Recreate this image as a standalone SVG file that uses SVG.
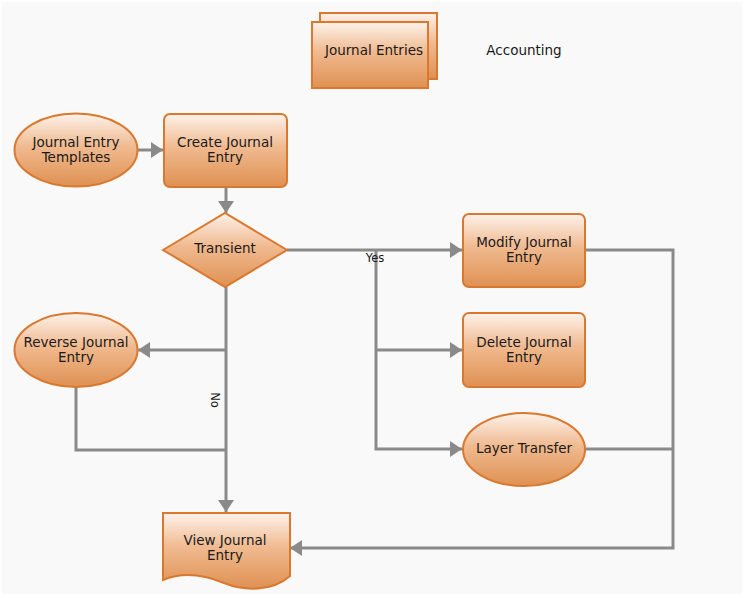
<svg xmlns="http://www.w3.org/2000/svg" width="745" height="598" viewBox="0 0 745 598">
<defs>
<linearGradient id="og" x1="0" y1="0" x2="0" y2="1">
<stop offset="0" stop-color="#fdf2ea"/>
<stop offset="0.45" stop-color="#f0ba90"/>
<stop offset="1" stop-color="#df9152"/>
</linearGradient>
<marker id="ah" markerUnits="userSpaceOnUse" markerWidth="14" markerHeight="16" refX="12" refY="8" orient="auto">
<path d="M0,0 L12,8 L0,16 Z" fill="#8a8a8a"/>
</marker>
<style>
.n{fill:url(#og);stroke:#d9782e;stroke-width:2}
.t{font-family:"DejaVu Sans",Verdana,sans-serif;font-size:13.5px;fill:#1a1a1a;text-anchor:middle}
.s{font-family:"DejaVu Sans",Verdana,sans-serif;font-size:11.5px;fill:#1a1a1a;text-anchor:middle}
.c{fill:none;stroke:#8a8a8a;stroke-width:3}
</style>
</defs>
<rect x="0" y="0" width="745" height="598" fill="#ffffff"/>
<rect x="2" y="2" width="740" height="592" fill="#f9f9f9"/>

<g id="connectors">
<path class="c" d="M137,150 H163" marker-end="url(#ah)"/>
<path class="c" d="M226,187 V213" marker-end="url(#ah)"/>
<path class="c" d="M287,250 H462" marker-end="url(#ah)"/>
<path class="c" d="M376,250 V449 H462" marker-end="url(#ah)"/>
<path class="c" d="M376,350 H462" marker-end="url(#ah)"/>
<path class="c" d="M226,287 V512" marker-end="url(#ah)"/>
<path class="c" d="M226,350 H138" marker-end="url(#ah)"/>
<path class="c" d="M76,387 V450 H226"/>
<path class="c" d="M585,250 H673 V548 H290" marker-end="url(#ah)"/>
<path class="c" d="M585,449 H673"/>
<text class="s" x="375" y="262">Yes</text>
<text class="s" x="0" y="0" transform="translate(211,400) rotate(90)">No</text>
</g>

<g id="journal-entries">
<rect class="n" x="320" y="13" width="117" height="66"/>
<rect class="n" x="312" y="22" width="116" height="66"/>
<text class="t" x="374" y="55">Journal Entries</text>
</g>

<g id="accounting">
<text class="t" x="524" y="55">Accounting</text>
</g>

<g id="journal-entry-templates">
<ellipse class="n" cx="76" cy="150" rx="61.5" ry="36.5"/>
<text class="t" x="76" y="147">Journal Entry</text>
<text class="t" x="76" y="162">Templates</text>
</g>

<g id="create-journal-entry">
<rect class="n" x="164" y="114" width="123" height="73" rx="6"/>
<text class="t" x="225" y="147">Create Journal</text>
<text class="t" x="225" y="162">Entry</text>
</g>

<g id="transient">
<polygon class="n" points="163,250 225,213 287,250 225,287"/>
<text class="t" x="225" y="253">Transient</text>
</g>

<g id="modify-journal-entry">
<rect class="n" x="463" y="214" width="122" height="73" rx="6"/>
<text class="t" x="524" y="247">Modify Journal</text>
<text class="t" x="524" y="262">Entry</text>
</g>

<g id="delete-journal-entry">
<rect class="n" x="463" y="313" width="122" height="74" rx="6"/>
<text class="t" x="524" y="347">Delete Journal</text>
<text class="t" x="524" y="362">Entry</text>
</g>

<g id="layer-transfer">
<ellipse class="n" cx="524" cy="449.5" rx="61" ry="36.5"/>
<text class="t" x="524" y="453">Layer Transfer</text>
</g>

<g id="reverse-journal-entry">
<ellipse class="n" cx="76" cy="350" rx="61.5" ry="37"/>
<text class="t" x="76" y="347">Reverse Journal</text>
<text class="t" x="76" y="362">Entry</text>
</g>

<g id="view-journal-entry">
<path class="n" d="M163,513 H290 V576 C272,592 244,591 224,583 C202,574 182,572 163,580 Z"/>
<text class="t" x="225" y="545">View Journal</text>
<text class="t" x="225" y="560">Entry</text>
</g>
</svg>
